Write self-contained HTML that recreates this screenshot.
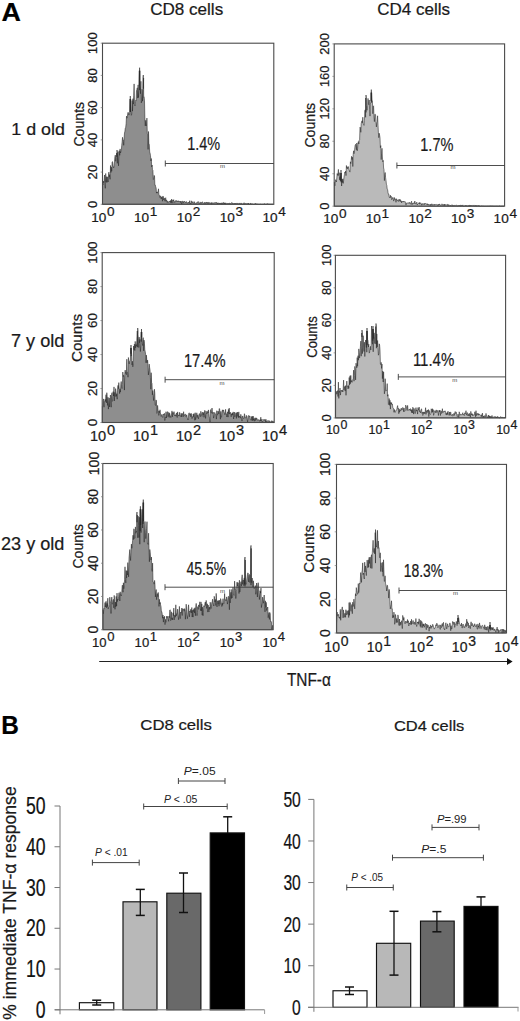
<!DOCTYPE html>
<html><head><meta charset="utf-8"><style>
html,body{margin:0;padding:0;background:#fff;width:520px;height:1021px;overflow:hidden}
svg text{font-family:"Liberation Sans", sans-serif;stroke:#1a1a1a;stroke-width:0.22px;paint-order:stroke}
</style></head><body>
<svg width="520" height="1021" viewBox="0 0 520 1021" style="display:block">
<rect width="520" height="1021" fill="#fff"/>
<text x="1.60" y="21.00" font-size="26.5" textLength="19.40" lengthAdjust="spacingAndGlyphs" font-weight="bold" fill="#000">A</text>
<text x="150.20" y="15.40" font-size="15.9" textLength="73.00" lengthAdjust="spacingAndGlyphs" fill="#1a1a1a">CD8 cells</text>
<text x="377.30" y="15.40" font-size="15.9" textLength="72.70" lengthAdjust="spacingAndGlyphs" fill="#1a1a1a">CD4 cells</text>
<text x="11.30" y="134.50" font-size="17.3" textLength="53.60" lengthAdjust="spacingAndGlyphs" fill="#1a1a1a">1 d old</text>
<text x="11.00" y="347.40" font-size="17.5" textLength="53.40" lengthAdjust="spacingAndGlyphs" fill="#1a1a1a">7 y old</text>
<text x="1.00" y="550.20" font-size="17.5" textLength="63.40" lengthAdjust="spacingAndGlyphs" fill="#1a1a1a">23 y old</text>
<polygon points="102.5,204.3 102.5,183.3 102.9,185.0 103.3,181.0 103.7,182.8 104.1,181.3 104.5,175.0 104.9,182.8 105.3,188.3 105.7,173.5 106.1,182.1 106.5,176.7 106.9,182.5 107.3,178.9 107.7,176.8 108.1,182.0 108.5,175.0 108.9,172.1 109.3,177.2 109.7,174.6 110.1,179.3 110.5,165.5 110.9,172.5 111.3,167.1 111.7,171.2 112.1,162.4 112.5,161.6 112.9,165.0 113.3,166.9 113.7,167.9 114.1,165.6 114.5,161.4 114.9,157.0 115.3,155.1 115.7,161.3 116.1,157.7 116.5,155.3 116.7,153.0 116.9,156.8 117.0,150.0 117.3,153.0 117.3,163.3 117.7,154.5 118.1,151.6 118.5,165.8 118.9,156.9 119.3,150.6 119.7,155.3 120.1,148.9 120.5,153.0 120.9,151.6 121.3,150.9 121.7,145.6 122.1,142.0 122.5,137.3 122.9,140.4 123.3,140.0 123.7,145.3 124.1,138.0 124.5,133.0 124.9,131.3 125.3,128.0 125.7,127.4 126.1,123.7 126.5,116.1 126.9,118.2 127.3,117.7 127.7,113.3 128.1,112.3 128.5,113.2 128.9,115.1 129.3,112.6 129.7,112.3 130.0,99.0 130.1,111.9 130.3,96.0 130.5,111.8 130.6,99.0 130.9,109.7 131.3,115.3 131.7,114.2 132.1,100.5 132.5,111.1 132.9,98.7 133.3,104.1 133.7,95.8 134.1,83.9 134.5,103.6 134.9,105.9 135.3,104.7 135.7,100.1 136.1,100.5 136.5,90.6 136.9,89.7 137.3,87.8 137.7,98.1 138.1,84.9 138.5,97.5 138.9,90.3 139.3,70.7 139.3,85.4 139.6,67.7 139.7,90.1 139.9,70.7 140.1,85.9 140.5,93.7 140.9,81.3 141.3,102.9 141.7,100.4 142.1,89.2 142.5,101.2 142.9,89.6 143.0,78.0 143.3,75.0 143.3,88.7 143.6,78.0 143.7,97.2 144.1,96.8 144.5,100.8 144.9,119.1 145.3,125.9 145.7,120.3 146.1,125.2 146.5,125.8 146.9,118.1 147.3,133.2 147.7,135.0 148.1,149.4 148.5,131.5 148.9,144.4 149.3,144.4 149.7,152.1 150.1,153.2 150.5,155.7 150.9,161.0 151.3,158.5 151.7,166.9 152.1,165.0 152.5,169.7 152.9,170.3 153.3,179.6 153.7,179.2 154.1,175.4 154.5,175.8 154.9,185.1 155.3,185.1 155.7,186.9 156.1,187.8 156.5,193.1 156.9,192.1 157.3,193.1 157.7,191.8 158.1,191.3 158.5,188.8 158.9,194.6 159.3,194.9 159.7,197.4 160.1,196.8 160.5,195.8 160.9,198.5 161.3,197.2 161.7,198.8 162.1,196.5 162.5,201.2 162.9,196.3 163.3,196.4 163.7,200.0 164.1,198.4 164.5,198.2 164.9,201.2 165.3,198.3 165.7,197.7 166.1,201.3 166.5,199.9 166.9,200.7 167.3,202.6 167.7,201.2 168.1,201.9 168.5,202.1 168.9,202.3 169.3,201.3 169.7,201.7 170.1,200.9 170.5,202.5 170.9,200.2 171.3,202.6 171.7,199.0 172.1,203.1 172.5,201.2 172.9,200.0 173.3,201.0 173.7,199.6 174.1,202.6 174.5,201.5 174.9,202.3 175.3,202.0 175.7,200.8 176.1,200.2 176.5,201.3 176.9,202.0 177.3,201.2 177.7,200.8 178.1,201.9 178.5,201.1 178.9,200.8 179.3,201.7 179.7,201.7 180.1,201.1 180.5,202.6 180.9,201.0 181.3,201.6 181.7,204.3 182.1,201.4 182.5,201.1 182.9,201.8 183.3,203.1 183.7,201.5 184.1,202.0 184.5,201.3 184.9,202.2 185.3,201.9 185.7,202.7 186.1,201.9 186.5,201.6 186.9,202.8 187.3,202.8 187.7,203.0 188.1,203.2 188.5,202.1 188.9,202.8 189.3,202.8 189.7,200.7 190.1,204.0 190.5,203.3 190.9,203.9 191.3,200.8 191.7,202.8 192.1,202.5 192.5,202.8 192.9,201.5 193.3,203.2 193.7,203.3 194.1,202.6 194.5,201.7 194.9,203.6 195.3,204.3 195.7,203.4 196.1,203.4 196.5,203.4 196.9,202.3 197.3,202.8 197.7,202.6 198.1,201.4 198.5,202.5 198.9,202.9 199.3,203.8 199.7,203.3 200.1,201.9 200.5,202.7 200.9,203.7 201.3,202.5 201.7,202.5 202.1,202.0 202.5,201.8 202.9,202.9 203.3,202.9 203.7,203.4 204.1,203.8 204.5,203.3 204.9,202.0 205.3,204.2 205.7,203.6 206.1,202.1 206.5,202.4 206.9,203.2 207.3,202.2 207.7,202.7 208.1,204.0 208.5,202.4 208.9,202.4 209.3,202.9 209.7,202.5 210.1,203.9 210.5,203.2 210.9,202.7 211.3,202.6 211.7,204.3 212.1,202.7 212.5,203.2 212.9,202.7 213.3,202.8 213.7,203.5 214.1,203.7 214.5,203.3 214.9,202.3 215.3,202.8 215.7,202.8 216.1,203.0 216.5,202.3 216.9,203.2 217.3,204.2 217.7,202.8 218.1,203.7 218.5,202.8 218.9,203.5 219.3,203.0 219.7,203.8 220.1,202.9 220.5,203.5 220.9,203.3 221.3,204.3 221.7,202.8 222.1,203.3 222.5,204.3 222.9,202.6 223.3,202.5 223.7,202.8 224.1,204.0 224.5,202.8 224.9,204.0 225.3,202.8 225.7,204.3 226.1,203.8 226.5,203.4 226.9,203.2 227.3,203.4 227.7,203.5 228.1,203.1 228.5,203.7 228.9,203.8 229.3,203.1 229.7,203.0 230.1,203.8 230.5,203.8 230.9,203.6 231.3,203.0 231.7,202.6 232.1,202.7 232.5,203.4 232.9,203.3 233.3,204.1 233.7,203.5 234.1,203.1 234.5,203.6 234.9,203.8 235.3,203.0 235.7,203.7 236.1,203.6 236.5,203.8 236.9,203.1 237.3,203.3 237.7,203.5 238.1,203.4 238.5,203.6 238.9,203.7 239.3,203.5 239.7,203.3 240.1,203.0 240.5,204.1 240.9,203.7 241.3,203.9 241.7,203.3 242.1,203.5 242.5,204.2 242.9,204.0 243.3,203.8 243.7,204.1 244.1,202.7 244.5,204.3 244.9,204.1 245.3,203.6 245.7,203.6 246.1,203.8 246.5,203.8 246.9,203.8 247.3,203.3 247.7,203.9 248.1,204.3 248.5,203.0 248.9,204.3 249.3,204.3 249.7,204.0 250.1,204.3 250.5,203.4 250.9,203.1 251.3,204.3 251.7,204.2 252.1,204.2 252.5,203.7 252.9,204.3 253.3,204.3 253.7,204.3 254.1,204.0 254.5,204.0 254.9,204.1 255.3,203.5 255.7,203.5 256.1,204.3 256.5,204.3 256.9,203.7 257.3,204.1 257.7,204.3 258.1,203.9 258.5,204.3 258.9,204.3 259.3,204.3 259.7,204.3 260.1,204.3 260.5,204.1 260.9,204.1 261.3,204.3 261.7,204.3 262.1,204.3 262.5,204.3 262.9,204.1 263.3,204.2 263.7,204.3 264.1,204.3 264.5,203.6 264.9,204.3 265.3,204.3 265.7,204.3 266.1,204.3 266.5,204.3 266.9,204.3 267.3,203.5 267.7,203.9 268.1,204.3 268.5,204.3 268.9,203.8 269.3,204.3 269.7,204.3 270.1,204.2 270.5,204.3 270.9,204.3 271.3,204.3 271.7,204.2 272.1,204.3 272.5,204.2 272.9,204.3 273.3,204.3 273.3,204.3" fill="#8e8e8e" stroke="#222" stroke-width="0.55" stroke-linejoin="miter"/>
<rect x="102.50" y="43.20" width="171.30" height="161.10" fill="none" stroke="#4a4a4a" stroke-width="1.1"/>
<line x1="100.70" y1="204.30" x2="102.50" y2="204.30" stroke="#777" stroke-width="0.7"/>
<text x="97.10" y="204.30" font-size="13.1" text-anchor="middle" transform="rotate(-90 97.10 204.30)" fill="#1a1a1a">0</text>
<line x1="100.70" y1="172.08" x2="102.50" y2="172.08" stroke="#777" stroke-width="0.7"/>
<text x="97.10" y="172.08" font-size="13.1" text-anchor="middle" transform="rotate(-90 97.10 172.08)" fill="#1a1a1a">20</text>
<line x1="100.70" y1="139.86" x2="102.50" y2="139.86" stroke="#777" stroke-width="0.7"/>
<text x="97.10" y="139.86" font-size="13.1" text-anchor="middle" transform="rotate(-90 97.10 139.86)" fill="#1a1a1a">40</text>
<line x1="100.70" y1="107.64" x2="102.50" y2="107.64" stroke="#777" stroke-width="0.7"/>
<text x="97.10" y="107.64" font-size="13.1" text-anchor="middle" transform="rotate(-90 97.10 107.64)" fill="#1a1a1a">60</text>
<line x1="100.70" y1="75.42" x2="102.50" y2="75.42" stroke="#777" stroke-width="0.7"/>
<text x="97.10" y="75.42" font-size="13.1" text-anchor="middle" transform="rotate(-90 97.10 75.42)" fill="#1a1a1a">80</text>
<line x1="100.70" y1="43.20" x2="102.50" y2="43.20" stroke="#777" stroke-width="0.7"/>
<text x="97.10" y="43.20" font-size="13.1" text-anchor="middle" transform="rotate(-90 97.10 43.20)" fill="#1a1a1a">100</text>
<text x="91.18" y="221.86" font-size="13.6" fill="#1a1a1a">10<tspan dx="0.68" dy="-5.85">0</tspan></text>
<text x="134.01" y="221.86" font-size="13.6" fill="#1a1a1a">10<tspan dx="0.68" dy="-5.85">1</tspan></text>
<text x="176.83" y="221.86" font-size="13.6" fill="#1a1a1a">10<tspan dx="0.68" dy="-5.85">2</tspan></text>
<text x="219.66" y="221.86" font-size="13.6" fill="#1a1a1a">10<tspan dx="0.68" dy="-5.85">3</tspan></text>
<text x="262.48" y="221.86" font-size="13.6" fill="#1a1a1a">10<tspan dx="0.68" dy="-5.85">4</tspan></text>
<text x="83.80" y="124.20" font-size="14.6" textLength="44.70" lengthAdjust="spacingAndGlyphs" text-anchor="middle" transform="rotate(-90 83.80 124.20)" fill="#1a1a1a">Counts</text>
<text x="187.20" y="149.70" font-size="18.5" textLength="33.00" lengthAdjust="spacingAndGlyphs" fill="#1a1a1a">1.4%</text>
<line x1="165.30" y1="163.50" x2="273.80" y2="163.50" stroke="#3a3a3a" stroke-width="0.9"/>
<line x1="165.30" y1="160.50" x2="165.30" y2="166.50" stroke="#3a3a3a" stroke-width="0.9"/>
<text x="220.00" y="168.00" font-size="6" fill="#444" style="stroke:none">m</text>
<polygon points="334.4,206.2 334.4,182.2 334.8,185.9 335.2,183.7 335.6,179.7 336.0,180.7 336.4,182.0 336.8,177.9 337.2,173.5 337.6,175.4 338.0,173.3 338.4,169.4 338.8,175.6 339.2,172.7 339.6,179.8 340.0,176.5 340.4,181.2 340.7,173.0 340.8,180.2 341.0,170.0 341.2,182.3 341.3,173.0 341.6,186.0 342.0,179.2 342.4,182.5 342.8,178.8 343.2,183.4 343.6,180.5 344.0,177.2 344.4,174.7 344.8,172.2 345.2,173.0 345.6,171.1 346.0,175.6 346.4,165.5 346.8,168.3 347.2,167.2 347.6,168.8 348.0,166.4 348.4,166.8 348.8,169.3 349.2,170.0 349.6,171.6 350.0,172.1 350.4,161.8 350.8,163.6 351.2,160.3 351.6,156.3 352.0,159.5 352.4,157.2 352.8,166.5 353.2,154.4 353.6,150.8 354.0,153.7 354.4,152.7 354.8,147.6 355.2,145.1 355.6,144.3 356.0,146.8 356.4,149.8 356.8,143.0 357.2,150.8 357.6,148.6 358.0,142.8 358.4,141.5 358.8,144.0 359.2,140.3 359.6,139.9 360.0,127.1 360.4,127.8 360.8,132.3 361.2,123.6 361.6,121.8 362.0,120.8 362.4,122.8 362.8,117.2 363.2,124.1 363.6,124.5 364.0,125.4 364.4,120.7 364.8,111.0 365.2,109.8 365.6,117.3 365.7,98.0 366.0,112.4 366.0,95.0 366.3,98.0 366.4,105.5 366.8,110.1 367.2,110.2 367.6,105.9 368.0,98.4 368.4,103.7 368.8,104.7 369.2,100.0 369.6,109.3 370.0,116.1 370.4,104.1 370.8,101.8 371.0,92.6 371.2,101.2 371.3,89.6 371.6,102.6 371.6,92.6 372.0,100.6 372.4,100.8 372.8,113.7 373.2,106.4 373.6,105.8 374.0,117.1 374.4,121.6 374.8,114.4 375.2,114.2 375.6,114.9 376.0,121.8 376.4,126.9 376.8,122.7 377.2,121.6 377.6,115.8 378.0,125.1 378.4,132.8 378.8,137.7 379.2,133.2 379.6,135.2 380.0,137.7 380.4,147.7 380.8,145.6 381.2,159.6 381.6,153.2 382.0,148.3 382.4,157.0 382.8,161.8 383.2,160.4 383.6,168.0 384.0,169.6 384.4,180.6 384.8,174.3 385.2,172.5 385.6,177.7 386.0,180.4 386.4,184.3 386.8,185.4 387.2,189.2 387.6,189.5 388.0,192.6 388.4,194.2 388.8,194.1 389.2,196.9 389.6,197.9 390.0,197.2 390.4,195.2 390.8,197.6 391.2,196.3 391.6,199.6 392.0,198.6 392.4,198.9 392.8,197.3 393.2,198.0 393.6,201.1 394.0,200.2 394.4,197.5 394.8,199.5 395.2,198.8 395.6,200.1 396.0,202.3 396.4,198.7 396.8,200.2 397.2,200.4 397.6,200.8 398.0,199.7 398.4,201.5 398.8,200.6 399.2,199.1 399.6,201.1 400.0,201.0 400.4,199.6 400.8,201.8 401.2,200.8 401.6,202.9 402.0,201.4 402.4,202.0 402.8,201.4 403.2,202.1 403.6,201.2 404.0,202.0 404.4,202.0 404.8,201.4 405.2,201.8 405.6,203.0 406.0,205.2 406.4,203.0 406.8,202.9 407.2,202.8 407.6,203.1 408.0,203.0 408.4,203.2 408.8,202.6 409.2,203.5 409.6,202.5 410.0,202.5 410.4,204.2 410.8,204.0 411.2,202.3 411.6,201.2 412.0,204.8 412.4,203.1 412.8,203.5 413.2,203.5 413.6,203.9 414.0,202.6 414.4,203.5 414.8,201.0 415.2,203.0 415.6,204.0 416.0,204.0 416.4,203.2 416.8,202.1 417.2,205.0 417.6,204.1 418.0,204.0 418.4,203.5 418.8,203.9 419.2,202.5 419.6,204.2 420.0,202.5 420.4,203.5 420.8,203.7 421.2,203.4 421.6,205.2 422.0,203.7 422.4,203.6 422.8,204.6 423.2,204.0 423.6,203.6 424.0,204.8 424.4,204.6 424.8,203.1 425.2,204.1 425.6,203.7 426.0,203.6 426.4,204.2 426.8,203.8 427.2,204.8 427.6,203.7 428.0,205.1 428.4,204.3 428.8,204.9 429.2,205.3 429.6,204.8 430.0,204.2 430.4,205.7 430.8,204.2 431.2,204.6 431.6,203.8 432.0,205.7 432.4,205.0 432.8,204.2 433.2,204.3 433.6,205.1 434.0,205.5 434.4,204.1 434.8,204.8 435.2,204.6 435.6,204.8 436.0,204.3 436.4,204.8 436.8,204.5 437.2,204.8 437.6,204.6 438.0,205.8 438.4,204.7 438.8,204.0 439.2,205.1 439.6,204.1 440.0,204.3 440.4,204.9 440.8,205.6 441.2,204.9 441.6,204.7 442.0,203.8 442.4,204.3 442.8,205.5 443.2,204.6 443.6,204.7 444.0,205.7 444.4,204.0 444.8,205.7 445.2,204.8 445.6,204.5 446.0,205.2 446.4,204.8 446.8,204.8 447.2,204.6 447.6,204.3 448.0,206.1 448.4,204.6 448.8,205.2 449.2,204.9 449.6,205.3 450.0,205.1 450.4,205.7 450.8,205.1 451.2,205.5 451.6,204.9 452.0,204.8 452.4,204.9 452.8,206.1 453.2,205.5 453.6,205.7 454.0,206.0 454.4,205.3 454.8,205.6 455.2,205.4 455.6,205.6 456.0,205.6 456.4,205.3 456.8,205.3 457.2,205.5 457.6,206.2 458.0,205.6 458.4,206.0 458.8,205.4 459.2,206.0 459.6,205.4 460.0,206.0 460.4,206.2 460.8,204.9 461.2,205.5 461.6,205.5 462.0,206.1 462.4,205.5 462.8,204.9 463.2,206.2 463.6,206.2 464.0,206.1 464.4,206.1 464.8,205.6 465.2,205.8 465.6,205.5 466.0,205.3 466.4,206.2 466.8,205.4 467.2,205.8 467.6,206.2 468.0,205.5 468.4,205.8 468.8,205.6 469.2,205.3 469.6,206.2 470.0,205.1 470.4,205.9 470.8,205.6 471.2,206.0 471.6,205.5 472.0,205.4 472.4,206.0 472.8,205.5 473.2,205.7 473.6,205.3 474.0,205.9 474.4,206.1 474.8,205.4 475.2,205.6 475.6,206.2 476.0,205.2 476.4,206.2 476.8,206.2 477.2,205.6 477.6,206.0 478.0,206.2 478.4,205.5 478.8,206.2 479.2,205.5 479.6,206.2 480.0,205.9 480.4,206.2 480.8,206.0 481.2,205.8 481.6,206.0 482.0,206.2 482.4,206.2 482.8,205.8 483.2,205.9 483.6,206.1 484.0,206.0 484.4,206.2 484.8,206.2 485.2,206.2 485.6,206.2 486.0,206.2 486.4,206.2 486.8,206.2 487.2,206.1 487.6,206.2 488.0,206.2 488.4,206.2 488.8,206.1 489.2,206.2 489.6,206.0 490.0,206.0 490.4,205.9 490.8,206.1 491.2,206.2 491.6,206.2 492.0,205.7 492.4,206.2 492.8,206.2 493.2,206.1 493.6,206.2 494.0,206.0 494.4,206.2 494.8,206.2 495.2,206.2 495.6,206.2 496.0,206.2 496.4,206.2 496.8,206.0 497.2,206.1 497.6,206.2 498.0,206.2 498.4,206.2 498.8,206.2 499.2,205.8 499.6,206.2 500.0,205.8 500.4,206.2 500.8,206.2 501.2,206.2 501.6,206.2 502.0,206.2 502.4,206.2 502.8,206.1 503.2,206.2 503.6,206.2 504.0,206.2 504.0,206.2" fill="#bababa" stroke="#222" stroke-width="0.55" stroke-linejoin="miter"/>
<rect x="334.20" y="43.90" width="170.40" height="162.30" fill="none" stroke="#4a4a4a" stroke-width="1.1"/>
<line x1="332.40" y1="206.20" x2="334.20" y2="206.20" stroke="#777" stroke-width="0.7"/>
<text x="329.40" y="206.20" font-size="12.9" text-anchor="middle" transform="rotate(-90 329.40 206.20)" fill="#1a1a1a">0</text>
<line x1="332.40" y1="173.74" x2="334.20" y2="173.74" stroke="#777" stroke-width="0.7"/>
<text x="329.40" y="173.74" font-size="12.9" text-anchor="middle" transform="rotate(-90 329.40 173.74)" fill="#1a1a1a">40</text>
<line x1="332.40" y1="141.28" x2="334.20" y2="141.28" stroke="#777" stroke-width="0.7"/>
<text x="329.40" y="141.28" font-size="12.9" text-anchor="middle" transform="rotate(-90 329.40 141.28)" fill="#1a1a1a">80</text>
<line x1="332.40" y1="108.82" x2="334.20" y2="108.82" stroke="#777" stroke-width="0.7"/>
<text x="329.40" y="108.82" font-size="12.9" text-anchor="middle" transform="rotate(-90 329.40 108.82)" fill="#1a1a1a">120</text>
<line x1="332.40" y1="76.36" x2="334.20" y2="76.36" stroke="#777" stroke-width="0.7"/>
<text x="329.40" y="76.36" font-size="12.9" text-anchor="middle" transform="rotate(-90 329.40 76.36)" fill="#1a1a1a">160</text>
<line x1="332.40" y1="43.90" x2="334.20" y2="43.90" stroke="#777" stroke-width="0.7"/>
<text x="329.40" y="43.90" font-size="12.9" text-anchor="middle" transform="rotate(-90 329.40 43.90)" fill="#1a1a1a">200</text>
<text x="323.18" y="223.36" font-size="13.6" fill="#1a1a1a">10<tspan dx="0.68" dy="-5.85">0</tspan></text>
<text x="365.78" y="223.36" font-size="13.6" fill="#1a1a1a">10<tspan dx="0.68" dy="-5.85">1</tspan></text>
<text x="408.38" y="223.36" font-size="13.6" fill="#1a1a1a">10<tspan dx="0.68" dy="-5.85">2</tspan></text>
<text x="450.98" y="223.36" font-size="13.6" fill="#1a1a1a">10<tspan dx="0.68" dy="-5.85">3</tspan></text>
<text x="493.58" y="223.36" font-size="13.6" fill="#1a1a1a">10<tspan dx="0.68" dy="-5.85">4</tspan></text>
<text x="314.80" y="125.20" font-size="14.6" textLength="44.70" lengthAdjust="spacingAndGlyphs" text-anchor="middle" transform="rotate(-90 314.80 125.20)" fill="#1a1a1a">Counts</text>
<text x="420.30" y="150.80" font-size="18.5" textLength="33.10" lengthAdjust="spacingAndGlyphs" fill="#1a1a1a">1.7%</text>
<line x1="396.90" y1="165.50" x2="504.60" y2="165.50" stroke="#3a3a3a" stroke-width="0.9"/>
<line x1="396.90" y1="162.50" x2="396.90" y2="168.50" stroke="#3a3a3a" stroke-width="0.9"/>
<text x="450.60" y="169.30" font-size="6" fill="#444" style="stroke:none">m</text>
<polygon points="102.4,422.5 102.4,406.5 102.8,405.8 103.2,400.3 103.6,398.9 104.0,407.2 104.4,401.6 104.8,400.9 105.2,399.3 105.6,401.6 106.0,394.7 106.4,402.9 106.8,392.7 107.2,397.1 107.6,405.4 108.0,397.2 108.4,409.1 108.8,402.2 109.2,398.0 109.6,407.0 110.0,399.8 110.4,395.0 110.8,397.6 111.2,407.2 111.6,395.3 112.0,392.7 112.4,401.4 112.8,400.9 113.2,391.6 113.6,396.0 114.0,386.9 114.4,400.9 114.8,392.4 115.2,396.5 115.6,388.6 116.0,391.1 116.4,396.3 116.8,393.7 117.2,399.2 117.6,389.0 118.0,385.4 118.4,388.7 118.8,382.6 119.2,388.1 119.6,393.6 120.0,388.8 120.4,392.1 120.8,385.0 121.2,381.5 121.6,387.2 122.0,388.5 122.4,384.6 122.8,372.0 123.2,376.6 123.6,375.2 124.0,375.5 124.4,390.1 124.8,372.8 125.2,370.1 125.6,373.3 126.0,372.4 126.4,374.7 126.8,359.2 127.2,372.6 127.6,372.4 128.0,377.2 128.4,357.5 128.8,360.5 129.2,363.9 129.6,361.4 130.0,360.7 130.4,360.1 130.7,348.0 130.8,353.7 131.0,345.0 131.2,356.1 131.3,348.0 131.6,354.5 132.0,364.9 132.4,361.2 132.8,366.8 133.2,362.8 133.6,346.0 134.0,349.8 134.4,344.1 134.8,350.6 135.2,341.4 135.6,347.9 136.0,344.5 136.4,346.3 136.8,340.5 137.2,331.3 137.4,331.0 137.6,347.2 137.7,328.0 138.0,331.0 138.0,334.8 138.4,340.0 138.8,347.5 139.2,337.1 139.6,342.8 140.0,339.4 140.4,351.5 140.8,345.1 141.2,332.0 141.2,341.6 141.5,329.0 141.6,337.1 141.8,332.0 142.0,337.9 142.4,343.8 142.8,345.6 143.2,337.6 143.6,350.8 144.0,340.1 144.4,343.2 144.8,349.7 145.2,351.4 145.6,354.3 146.0,362.8 146.4,355.1 146.8,360.1 147.2,362.8 147.6,360.1 148.0,364.9 148.4,374.9 148.8,370.4 149.2,364.1 149.6,367.5 150.0,369.8 150.4,377.5 150.8,389.2 151.2,372.7 151.6,382.9 152.0,383.5 152.4,394.8 152.8,390.5 153.2,395.0 153.6,400.5 154.0,393.6 154.4,389.2 154.8,393.1 155.2,404.7 155.6,405.5 156.0,399.9 156.4,400.8 156.8,413.4 157.2,412.4 157.6,405.4 158.0,410.2 158.4,410.8 158.8,415.4 159.2,411.0 159.6,412.7 160.0,409.8 160.4,412.7 160.8,415.8 161.2,416.5 161.6,415.1 162.0,414.3 162.4,416.6 162.8,417.5 163.2,415.1 163.6,414.1 164.0,414.8 164.4,413.3 164.8,420.5 165.2,417.3 165.6,417.8 166.0,411.7 166.4,418.0 166.8,414.9 167.2,412.1 167.6,411.6 168.0,416.7 168.4,416.2 168.8,412.3 169.2,417.4 169.6,413.1 170.0,415.2 170.4,416.0 170.8,417.6 171.2,415.0 171.6,413.7 172.0,410.9 172.4,416.9 172.8,412.3 173.2,414.1 173.6,414.3 174.0,411.6 174.4,414.5 174.8,416.0 175.2,415.0 175.6,414.7 176.0,416.2 176.4,413.0 176.8,413.0 177.2,417.5 177.6,411.9 178.0,414.6 178.4,415.6 178.8,415.1 179.2,416.1 179.6,412.3 180.0,414.9 180.4,415.8 180.8,416.6 181.2,413.2 181.6,416.9 182.0,414.0 182.4,413.4 182.8,415.4 183.2,416.8 183.6,411.7 184.0,416.1 184.4,415.7 184.8,414.3 185.2,414.2 185.6,414.3 186.0,416.6 186.4,415.8 186.8,414.8 187.2,417.5 187.6,418.5 188.0,420.0 188.4,417.0 188.8,413.3 189.2,412.8 189.6,414.8 190.0,415.3 190.4,413.7 190.8,416.9 191.2,413.3 191.6,416.1 192.0,418.6 192.4,416.6 192.8,417.4 193.2,414.0 193.6,416.7 194.0,413.5 194.4,416.2 194.8,420.3 195.2,412.7 195.6,419.6 196.0,417.6 196.4,416.9 196.8,412.8 197.2,417.5 197.6,414.8 198.0,415.3 198.4,418.9 198.8,416.3 199.2,413.6 199.6,413.8 200.0,415.3 200.4,416.7 200.8,411.3 201.2,412.8 201.6,415.7 202.0,416.4 202.4,412.6 202.8,412.1 203.2,415.1 203.6,412.5 204.0,417.3 204.4,413.5 204.8,410.3 205.2,413.8 205.6,418.4 206.0,411.1 206.4,412.4 206.8,414.0 207.2,413.1 207.6,411.4 208.0,413.0 208.4,409.9 208.8,413.5 209.2,416.5 209.6,418.7 210.0,422.5 210.4,410.6 210.8,409.5 211.2,413.0 211.6,413.1 212.0,408.0 212.4,412.2 212.8,413.6 213.2,412.1 213.6,418.1 214.0,416.0 214.4,412.8 214.8,412.4 215.2,413.7 215.6,414.0 216.0,414.9 216.4,419.1 216.8,410.7 217.2,414.2 217.6,415.2 218.0,411.0 218.4,411.9 218.8,414.0 219.2,408.5 219.6,408.8 220.0,412.7 220.4,419.2 220.8,411.4 221.2,417.0 221.6,417.3 222.0,411.6 222.4,409.8 222.8,411.4 223.2,411.0 223.6,409.9 224.0,412.6 224.4,412.7 224.8,414.8 225.2,413.6 225.6,409.3 226.0,414.1 226.4,413.9 226.8,417.0 227.2,413.4 227.6,411.8 228.0,417.1 228.4,409.4 228.8,413.6 229.2,408.1 229.6,414.1 230.0,412.6 230.4,412.6 230.8,412.6 231.2,416.8 231.6,413.8 232.0,415.1 232.4,412.9 232.8,415.2 233.2,411.9 233.6,419.0 234.0,415.0 234.4,412.1 234.8,416.8 235.2,415.7 235.6,414.8 236.0,412.6 236.4,418.4 236.8,412.7 237.2,416.4 237.6,412.1 238.0,413.5 238.4,417.6 238.8,411.9 239.2,417.3 239.6,416.1 240.0,416.5 240.4,418.2 240.8,414.3 241.2,416.2 241.6,419.0 242.0,421.1 242.4,416.1 242.8,416.1 243.2,417.9 243.6,418.6 244.0,417.6 244.4,413.7 244.8,415.1 245.2,418.2 245.6,417.7 246.0,417.9 246.4,415.4 246.8,415.9 247.2,419.3 247.6,421.9 248.0,417.9 248.4,415.5 248.8,415.9 249.2,415.7 249.6,416.7 250.0,416.1 250.4,419.9 250.8,419.8 251.2,420.2 251.6,416.5 252.0,420.3 252.4,416.3 252.8,420.8 253.2,416.1 253.6,420.1 254.0,418.8 254.4,421.2 254.8,417.9 255.2,418.0 255.6,420.6 256.0,417.7 256.4,419.4 256.8,418.3 257.2,419.1 257.6,420.4 258.0,419.9 258.4,419.6 258.8,420.0 259.2,421.0 259.6,421.3 260.0,419.6 260.4,421.0 260.8,417.2 261.2,421.3 261.6,420.3 262.0,419.1 262.4,422.2 262.8,421.3 263.2,421.2 263.6,420.5 264.0,419.1 264.4,420.3 264.8,419.9 265.2,419.6 265.6,421.9 266.0,419.3 266.4,422.5 266.8,421.2 267.2,420.8 267.6,420.9 268.0,420.9 268.4,420.5 268.8,421.8 269.2,422.3 269.6,420.7 270.0,421.1 270.4,422.2 270.8,422.5 271.2,422.5 271.6,420.9 272.0,420.6 272.4,422.5 272.8,421.2 273.2,421.1 273.6,422.5 273.6,422.5" fill="#8e8e8e" stroke="#222" stroke-width="0.55" stroke-linejoin="miter"/>
<rect x="102.20" y="252.60" width="172.00" height="169.90" fill="none" stroke="#4a4a4a" stroke-width="1.1"/>
<line x1="100.40" y1="422.50" x2="102.20" y2="422.50" stroke="#777" stroke-width="0.7"/>
<text x="97.30" y="422.50" font-size="13.4" text-anchor="middle" transform="rotate(-90 97.30 422.50)" fill="#1a1a1a">0</text>
<line x1="100.40" y1="388.52" x2="102.20" y2="388.52" stroke="#777" stroke-width="0.7"/>
<text x="97.30" y="388.52" font-size="13.4" text-anchor="middle" transform="rotate(-90 97.30 388.52)" fill="#1a1a1a">20</text>
<line x1="100.40" y1="354.54" x2="102.20" y2="354.54" stroke="#777" stroke-width="0.7"/>
<text x="97.30" y="354.54" font-size="13.4" text-anchor="middle" transform="rotate(-90 97.30 354.54)" fill="#1a1a1a">40</text>
<line x1="100.40" y1="320.56" x2="102.20" y2="320.56" stroke="#777" stroke-width="0.7"/>
<text x="97.30" y="320.56" font-size="13.4" text-anchor="middle" transform="rotate(-90 97.30 320.56)" fill="#1a1a1a">60</text>
<line x1="100.40" y1="286.58" x2="102.20" y2="286.58" stroke="#777" stroke-width="0.7"/>
<text x="97.30" y="286.58" font-size="13.4" text-anchor="middle" transform="rotate(-90 97.30 286.58)" fill="#1a1a1a">80</text>
<line x1="100.40" y1="252.60" x2="102.20" y2="252.60" stroke="#777" stroke-width="0.7"/>
<text x="97.30" y="252.60" font-size="13.4" text-anchor="middle" transform="rotate(-90 97.30 252.60)" fill="#1a1a1a">100</text>
<text x="89.92" y="441.15" font-size="14.6" fill="#1a1a1a">10<tspan dx="0.73" dy="-6.28">0</tspan></text>
<text x="132.92" y="441.15" font-size="14.6" fill="#1a1a1a">10<tspan dx="0.73" dy="-6.28">1</tspan></text>
<text x="175.92" y="441.15" font-size="14.6" fill="#1a1a1a">10<tspan dx="0.73" dy="-6.28">2</tspan></text>
<text x="218.92" y="441.15" font-size="14.6" fill="#1a1a1a">10<tspan dx="0.73" dy="-6.28">3</tspan></text>
<text x="261.92" y="441.15" font-size="14.6" fill="#1a1a1a">10<tspan dx="0.73" dy="-6.28">4</tspan></text>
<text x="81.90" y="338.00" font-size="15.3" textLength="48.10" lengthAdjust="spacingAndGlyphs" text-anchor="middle" transform="rotate(-90 81.90 338.00)" fill="#1a1a1a">Counts</text>
<text x="183.90" y="366.50" font-size="18.0" textLength="41.70" lengthAdjust="spacingAndGlyphs" fill="#1a1a1a">17.4%</text>
<line x1="165.10" y1="379.70" x2="274.20" y2="379.70" stroke="#3a3a3a" stroke-width="0.9"/>
<line x1="165.10" y1="376.70" x2="165.10" y2="382.70" stroke="#3a3a3a" stroke-width="0.9"/>
<text x="219.50" y="384.70" font-size="6" fill="#444" style="stroke:none">m</text>
<polygon points="335.6,417.9 335.6,395.6 336.0,391.7 336.4,391.3 336.8,394.2 337.2,392.1 337.6,390.6 338.0,396.5 338.4,382.1 338.8,398.4 339.2,391.2 339.6,392.4 340.0,388.0 340.4,395.1 340.8,391.5 341.2,390.0 341.6,391.3 342.0,391.6 342.4,390.2 342.8,392.0 343.2,388.4 343.6,380.1 344.0,389.8 344.4,388.4 344.8,386.4 345.2,391.1 345.6,385.6 346.0,395.3 346.4,388.2 346.8,381.1 347.2,386.4 347.6,385.9 348.0,388.9 348.4,385.6 348.8,388.4 349.2,377.5 349.6,384.8 350.0,375.8 350.4,383.7 350.8,375.4 351.2,381.8 351.6,380.6 352.0,382.4 352.4,380.2 352.8,379.5 353.2,378.4 353.6,370.1 354.0,381.2 354.4,375.6 354.8,366.4 355.2,369.0 355.6,379.9 356.0,363.2 356.4,366.1 356.8,367.8 357.2,357.6 357.6,366.3 358.0,355.7 358.4,360.2 358.8,348.9 359.2,352.2 359.6,358.1 360.0,352.7 360.4,346.5 360.8,341.1 361.2,356.2 361.6,348.1 361.7,333.0 362.0,337.0 362.0,330.0 362.3,333.0 362.4,353.6 362.8,347.8 363.2,335.7 363.6,347.2 364.0,351.5 364.4,342.2 364.8,356.5 365.2,345.4 365.6,340.0 366.0,344.2 366.4,347.5 366.7,331.0 366.8,352.2 367.0,328.0 367.2,345.2 367.3,331.0 367.6,339.9 368.0,340.6 368.4,347.0 368.8,344.2 369.2,353.1 369.6,352.3 370.0,348.1 370.4,346.3 370.8,350.0 371.2,343.6 371.6,326.0 372.0,339.5 372.4,344.2 372.7,329.0 372.8,340.7 373.0,326.0 373.2,351.8 373.3,329.0 373.6,338.6 374.0,332.9 374.4,336.7 374.8,343.6 375.2,332.7 375.6,332.4 375.7,326.5 376.0,344.1 376.0,323.5 376.3,326.5 376.4,348.2 376.8,333.9 377.2,346.9 377.6,340.5 378.0,347.4 378.4,355.2 378.8,353.9 379.2,343.8 379.6,345.0 380.0,349.9 380.4,363.9 380.8,364.7 381.2,362.4 381.6,368.4 382.0,364.1 382.4,378.6 382.8,371.0 383.2,382.0 383.6,372.0 384.0,382.8 384.4,393.8 384.8,390.3 385.2,378.7 385.6,390.9 386.0,390.7 386.4,390.5 386.8,390.7 387.2,383.6 387.6,396.2 388.0,394.6 388.4,404.6 388.8,404.0 389.2,398.5 389.6,405.3 390.0,400.3 390.4,409.1 390.8,402.3 391.2,404.0 391.6,402.7 392.0,405.0 392.4,404.3 392.8,407.5 393.2,408.3 393.6,408.4 394.0,412.3 394.4,409.5 394.8,412.0 395.2,412.4 395.6,411.4 396.0,410.3 396.4,409.9 396.8,409.9 397.2,407.2 397.6,405.6 398.0,408.9 398.4,408.3 398.8,413.7 399.2,408.9 399.6,412.2 400.0,410.2 400.4,409.7 400.8,410.8 401.2,408.1 401.6,409.1 402.0,410.0 402.4,408.6 402.8,407.4 403.2,408.3 403.6,411.7 404.0,408.0 404.4,411.4 404.8,411.4 405.2,411.0 405.6,405.1 406.0,405.6 406.4,406.4 406.8,409.9 407.2,410.6 407.6,405.4 408.0,409.7 408.4,409.9 408.8,410.4 409.2,409.1 409.6,409.8 410.0,409.6 410.4,408.6 410.8,411.0 411.2,409.7 411.6,412.6 412.0,409.5 412.4,413.0 412.8,407.2 413.2,408.3 413.6,414.1 414.0,408.4 414.4,409.6 414.8,411.3 415.2,413.6 415.6,409.4 416.0,407.6 416.4,411.2 416.8,409.8 417.2,410.1 417.6,414.1 418.0,407.6 418.4,410.2 418.8,409.1 419.2,407.1 419.6,411.7 420.0,410.6 420.4,412.9 420.8,411.4 421.2,409.2 421.6,408.8 422.0,413.4 422.4,412.1 422.8,415.5 423.2,414.5 423.6,411.9 424.0,413.9 424.4,412.2 424.8,413.5 425.2,411.4 425.6,407.7 426.0,414.4 426.4,410.6 426.8,411.0 427.2,412.6 427.6,410.1 428.0,411.3 428.4,409.5 428.8,416.6 429.2,410.5 429.6,413.6 430.0,413.8 430.4,414.5 430.8,413.3 431.2,408.8 431.6,410.0 432.0,412.6 432.4,408.7 432.8,412.0 433.2,409.6 433.6,415.3 434.0,413.8 434.4,412.3 434.8,410.7 435.2,411.1 435.6,412.7 436.0,409.9 436.4,410.1 436.8,412.6 437.2,411.8 437.6,410.4 438.0,410.9 438.4,415.5 438.8,412.3 439.2,410.1 439.6,412.0 440.0,410.2 440.4,415.5 440.8,412.1 441.2,410.9 441.6,413.5 442.0,412.5 442.4,408.7 442.8,412.5 443.2,412.6 443.6,411.5 444.0,411.6 444.4,412.0 444.8,410.9 445.2,410.9 445.6,412.8 446.0,414.6 446.4,413.3 446.8,415.1 447.2,412.3 447.6,414.4 448.0,411.2 448.4,414.4 448.8,414.9 449.2,415.5 449.6,412.0 450.0,415.0 450.4,411.9 450.8,412.4 451.2,415.7 451.6,415.1 452.0,414.7 452.4,414.2 452.8,416.2 453.2,415.8 453.6,414.2 454.0,413.3 454.4,415.4 454.8,412.9 455.2,411.5 455.6,413.5 456.0,412.5 456.4,412.3 456.8,415.5 457.2,416.7 457.6,416.5 458.0,414.1 458.4,415.5 458.8,417.7 459.2,411.8 459.6,413.3 460.0,415.3 460.4,414.4 460.8,414.2 461.2,414.7 461.6,414.8 462.0,415.0 462.4,413.7 462.8,412.7 463.2,415.1 463.6,414.4 464.0,415.4 464.4,415.5 464.8,412.8 465.2,413.9 465.6,412.7 466.0,410.7 466.4,415.2 466.8,413.9 467.2,412.5 467.6,414.2 468.0,416.0 468.4,414.1 468.8,413.7 469.2,416.1 469.6,413.4 470.0,414.2 470.4,417.3 470.8,411.4 471.2,413.6 471.6,415.0 472.0,413.5 472.4,415.7 472.8,414.2 473.2,414.7 473.6,415.5 474.0,415.1 474.4,414.9 474.8,411.8 475.2,413.0 475.6,416.8 476.0,410.7 476.4,415.6 476.8,414.2 477.2,413.2 477.6,413.9 478.0,415.1 478.4,413.5 478.8,415.2 479.2,414.2 479.6,414.2 480.0,414.7 480.4,415.2 480.8,415.8 481.2,416.6 481.6,414.7 482.0,416.6 482.4,413.1 482.8,416.0 483.2,417.7 483.6,416.1 484.0,417.5 484.4,416.2 484.8,415.5 485.2,417.2 485.6,416.9 486.0,413.4 486.4,416.1 486.8,415.9 487.2,416.9 487.6,417.9 488.0,416.4 488.4,415.0 488.8,417.7 489.2,415.7 489.6,417.7 490.0,416.0 490.4,417.9 490.8,416.5 491.2,416.6 491.6,417.8 492.0,415.4 492.4,417.5 492.8,417.5 493.2,417.3 493.6,417.0 494.0,417.2 494.4,417.0 494.8,416.5 495.2,417.7 495.6,416.7 496.0,417.0 496.4,417.9 496.8,416.8 497.2,417.9 497.6,416.5 498.0,416.6 498.4,417.6 498.8,417.6 499.2,417.9 499.6,417.8 500.0,417.8 500.4,416.7 500.8,416.8 501.2,417.3 501.6,417.0 502.0,417.9 502.4,417.5 502.8,417.1 503.2,417.4 503.6,417.8 504.0,417.4 504.4,417.4 504.8,417.9 505.2,417.9 505.2,417.9" fill="#bababa" stroke="#222" stroke-width="0.55" stroke-linejoin="miter"/>
<rect x="335.40" y="255.30" width="170.20" height="162.60" fill="none" stroke="#4a4a4a" stroke-width="1.1"/>
<line x1="333.60" y1="417.90" x2="335.40" y2="417.90" stroke="#777" stroke-width="0.7"/>
<text x="331.20" y="417.90" font-size="12.9" text-anchor="middle" transform="rotate(-90 331.20 417.90)" fill="#1a1a1a">0</text>
<line x1="333.60" y1="385.38" x2="335.40" y2="385.38" stroke="#777" stroke-width="0.7"/>
<text x="331.20" y="385.38" font-size="12.9" text-anchor="middle" transform="rotate(-90 331.20 385.38)" fill="#1a1a1a">20</text>
<line x1="333.60" y1="352.86" x2="335.40" y2="352.86" stroke="#777" stroke-width="0.7"/>
<text x="331.20" y="352.86" font-size="12.9" text-anchor="middle" transform="rotate(-90 331.20 352.86)" fill="#1a1a1a">40</text>
<line x1="333.60" y1="320.34" x2="335.40" y2="320.34" stroke="#777" stroke-width="0.7"/>
<text x="331.20" y="320.34" font-size="12.9" text-anchor="middle" transform="rotate(-90 331.20 320.34)" fill="#1a1a1a">60</text>
<line x1="333.60" y1="287.82" x2="335.40" y2="287.82" stroke="#777" stroke-width="0.7"/>
<text x="331.20" y="287.82" font-size="12.9" text-anchor="middle" transform="rotate(-90 331.20 287.82)" fill="#1a1a1a">80</text>
<line x1="333.60" y1="255.30" x2="335.40" y2="255.30" stroke="#777" stroke-width="0.7"/>
<text x="331.20" y="255.30" font-size="12.9" text-anchor="middle" transform="rotate(-90 331.20 255.30)" fill="#1a1a1a">100</text>
<text x="325.96" y="433.88" font-size="12.4" fill="#1a1a1a">10<tspan dx="0.62" dy="-5.33">0</tspan></text>
<text x="368.51" y="433.88" font-size="12.4" fill="#1a1a1a">10<tspan dx="0.62" dy="-5.33">1</tspan></text>
<text x="411.06" y="433.88" font-size="12.4" fill="#1a1a1a">10<tspan dx="0.62" dy="-5.33">2</tspan></text>
<text x="453.61" y="433.88" font-size="12.4" fill="#1a1a1a">10<tspan dx="0.62" dy="-5.33">3</tspan></text>
<text x="496.16" y="433.88" font-size="12.4" fill="#1a1a1a">10<tspan dx="0.62" dy="-5.33">4</tspan></text>
<text x="317.40" y="337.00" font-size="14.0" textLength="41.70" lengthAdjust="spacingAndGlyphs" text-anchor="middle" transform="rotate(-90 317.40 337.00)" fill="#1a1a1a">Counts</text>
<text x="412.90" y="366.30" font-size="18.3" textLength="41.40" lengthAdjust="spacingAndGlyphs" fill="#1a1a1a">11.4%</text>
<line x1="398.30" y1="376.90" x2="505.60" y2="376.90" stroke="#3a3a3a" stroke-width="0.9"/>
<line x1="398.30" y1="373.90" x2="398.30" y2="379.90" stroke="#3a3a3a" stroke-width="0.9"/>
<text x="452.30" y="381.90" font-size="6" fill="#444" style="stroke:none">m</text>
<polygon points="103.0,629.7 103.0,609.7 103.4,613.7 103.8,608.6 104.2,609.0 104.6,607.5 105.0,602.6 105.4,607.0 105.8,601.6 106.2,601.3 106.6,607.8 107.0,603.4 107.4,606.5 107.8,598.2 108.2,608.9 108.6,607.5 109.0,606.7 109.4,604.5 109.8,597.2 110.2,600.9 110.6,603.3 111.0,613.5 111.4,601.5 111.8,597.1 112.2,604.3 112.6,604.0 113.0,600.0 113.4,599.3 113.8,607.8 114.2,595.4 114.6,599.6 115.0,609.3 115.4,602.0 115.8,606.9 116.2,596.4 116.6,606.0 117.0,593.1 117.4,601.5 117.8,599.1 118.2,599.7 118.6,596.5 119.0,592.8 119.4,595.0 119.8,601.0 120.2,591.8 120.6,595.2 121.0,594.9 121.4,595.8 121.8,591.8 122.2,585.6 122.6,585.1 123.0,592.2 123.4,582.8 123.8,588.7 124.2,584.5 124.6,579.7 125.0,566.8 125.4,579.8 125.8,582.9 126.2,570.5 126.6,577.9 127.0,570.9 127.4,575.0 127.8,562.6 128.2,570.0 128.6,576.8 129.0,558.1 129.4,553.9 129.8,549.5 130.2,555.3 130.6,560.5 131.0,550.2 131.4,544.1 131.8,548.3 132.2,545.1 132.6,540.6 133.0,535.2 133.4,539.5 133.8,528.8 134.2,529.5 134.6,538.5 135.0,537.6 135.4,526.9 135.8,533.3 136.2,531.2 136.6,531.8 136.7,515.0 137.0,512.0 137.0,522.2 137.3,515.0 137.4,532.1 137.8,537.8 138.2,516.2 138.6,525.6 139.0,537.5 139.4,517.2 139.8,544.2 140.1,509.3 140.2,530.8 140.4,506.3 140.6,525.1 140.7,509.3 141.0,532.6 141.4,525.3 141.8,514.3 142.2,509.3 142.6,528.0 143.0,502.6 143.0,523.9 143.3,499.6 143.4,521.1 143.6,502.6 143.8,521.4 144.2,542.2 144.6,529.1 145.0,521.5 145.4,532.2 145.8,538.6 146.2,530.8 146.6,528.4 147.0,521.7 147.4,543.4 147.8,543.2 148.2,544.5 148.6,533.2 149.0,548.2 149.4,561.7 149.8,549.5 150.2,552.4 150.6,557.3 151.0,560.0 151.4,557.0 151.8,567.9 152.2,571.4 152.6,563.1 153.0,581.6 153.4,582.0 153.8,582.2 154.2,584.2 154.6,580.4 155.0,584.9 155.4,596.9 155.8,591.8 156.2,589.5 156.6,599.6 157.0,594.7 157.4,593.6 157.8,596.7 158.2,592.4 158.6,597.1 159.0,606.4 159.4,599.3 159.8,604.0 160.2,602.4 160.6,605.0 161.0,606.4 161.4,611.7 161.8,611.6 162.2,613.8 162.6,618.2 163.0,615.0 163.4,622.1 163.8,617.0 164.2,618.6 164.6,616.2 165.0,624.6 165.4,619.3 165.8,622.4 166.2,621.5 166.6,616.2 167.0,617.6 167.4,616.4 167.8,616.7 168.2,619.0 168.6,621.3 169.0,616.0 169.4,617.7 169.8,610.1 170.2,609.8 170.6,620.7 171.0,620.0 171.4,611.8 171.8,619.4 172.2,617.8 172.6,619.9 173.0,612.8 173.4,615.7 173.8,608.1 174.2,619.9 174.6,615.6 175.0,614.9 175.4,617.2 175.8,604.8 176.2,616.0 176.6,613.7 177.0,614.2 177.4,609.1 177.8,609.6 178.2,616.0 178.6,619.7 179.0,614.3 179.4,606.4 179.8,612.9 180.2,618.6 180.6,612.1 181.0,613.2 181.4,612.9 181.8,608.0 182.2,615.5 182.6,608.8 183.0,609.0 183.4,609.2 183.8,609.1 184.2,611.2 184.6,608.6 185.0,610.1 185.4,619.2 185.8,611.2 186.2,604.2 186.6,609.8 187.0,614.8 187.4,618.7 187.8,615.1 188.2,607.8 188.6,604.8 189.0,612.5 189.4,616.8 189.8,611.0 190.2,612.3 190.6,609.6 191.0,609.4 191.4,612.9 191.8,607.5 192.2,617.0 192.6,610.2 193.0,617.1 193.4,609.5 193.8,611.8 194.2,608.4 194.6,613.1 195.0,607.7 195.4,615.7 195.8,606.2 196.2,603.4 196.6,608.1 197.0,615.6 197.4,612.5 197.8,606.6 198.2,609.4 198.6,604.9 199.0,606.0 199.4,606.7 199.8,601.8 200.2,608.7 200.6,610.6 201.0,601.9 201.4,610.9 201.8,603.9 202.2,615.1 202.6,607.1 203.0,615.7 203.4,612.3 203.8,605.7 204.2,606.8 204.6,606.5 205.0,602.8 205.4,602.0 205.8,605.5 206.2,600.4 206.6,608.4 207.0,605.5 207.4,603.8 207.8,612.1 208.2,605.0 208.6,610.5 209.0,611.9 209.4,607.1 209.8,609.5 210.2,602.2 210.6,604.7 211.0,608.5 211.4,606.1 211.8,602.5 212.2,601.8 212.6,599.2 213.0,602.6 213.4,604.4 213.8,606.0 214.2,596.3 214.6,598.1 215.0,602.0 215.4,599.4 215.8,605.5 216.2,593.4 216.6,601.0 217.0,606.9 217.4,600.7 217.8,602.1 218.2,604.2 218.6,600.5 219.0,606.2 219.4,600.2 219.8,603.4 220.2,604.3 220.6,598.6 221.0,599.8 221.4,603.9 221.8,606.5 222.2,602.9 222.6,605.3 223.0,598.7 223.4,603.4 223.8,603.9 224.2,602.9 224.6,593.5 225.0,600.3 225.4,600.0 225.8,599.7 226.2,600.7 226.6,596.9 227.0,599.1 227.4,604.1 227.8,600.8 228.2,596.4 228.6,596.4 229.0,597.2 229.4,609.7 229.8,589.4 230.2,602.9 230.6,594.2 231.0,592.2 231.4,598.5 231.8,589.4 232.2,597.8 232.6,596.6 233.0,587.2 233.4,593.9 233.8,594.9 234.2,595.4 234.6,581.1 235.0,589.4 235.4,588.6 235.8,598.5 236.2,591.2 236.6,589.6 237.0,582.2 237.4,586.0 237.8,582.5 238.2,582.8 238.6,584.5 239.0,593.5 239.4,580.2 239.8,592.0 240.2,587.2 240.6,583.7 241.0,581.6 241.4,586.2 241.8,578.0 242.2,574.8 242.6,584.3 243.0,579.9 243.4,580.0 243.8,585.7 244.2,577.9 244.6,584.4 244.7,560.0 245.0,557.0 245.0,586.4 245.3,560.0 245.4,573.2 245.8,584.5 246.2,582.4 246.6,581.4 247.0,577.8 247.4,574.7 247.8,572.9 248.2,573.2 248.6,581.9 249.0,575.6 249.4,574.4 249.8,582.5 250.2,578.9 250.6,574.5 250.7,548.4 251.0,545.4 251.0,585.2 251.3,548.4 251.4,579.6 251.8,582.7 252.2,578.0 252.6,584.7 253.0,587.1 253.4,580.8 253.8,585.7 254.2,588.6 254.6,587.7 255.0,587.9 255.4,585.6 255.8,594.3 256.2,590.4 256.6,583.0 257.0,585.6 257.4,597.0 257.8,587.1 258.2,582.7 258.6,589.3 259.0,590.6 259.4,599.5 259.8,594.8 260.2,591.0 260.6,593.1 261.0,588.1 261.4,607.5 261.8,604.7 262.2,603.0 262.6,597.1 263.0,600.9 263.4,603.2 263.8,599.2 264.2,595.0 264.6,606.6 265.0,611.8 265.4,600.8 265.8,607.4 266.2,602.3 266.6,610.5 267.0,607.9 267.4,607.8 267.8,607.0 268.2,617.7 268.6,615.0 269.0,612.5 269.4,619.4 269.8,612.5 270.2,613.9 270.6,621.6 271.0,621.3 271.4,621.8 271.8,629.2 272.2,627.1 272.6,625.3 272.6,629.7" fill="#8e8e8e" stroke="#222" stroke-width="0.55" stroke-linejoin="miter"/>
<rect x="102.80" y="463.50" width="170.40" height="166.20" fill="none" stroke="#4a4a4a" stroke-width="1.1"/>
<line x1="101.00" y1="629.70" x2="102.80" y2="629.70" stroke="#777" stroke-width="0.7"/>
<text x="98.50" y="629.70" font-size="14.0" text-anchor="middle" transform="rotate(-90 98.50 629.70)" fill="#1a1a1a">0</text>
<line x1="101.00" y1="596.46" x2="102.80" y2="596.46" stroke="#777" stroke-width="0.7"/>
<text x="98.50" y="596.46" font-size="14.0" text-anchor="middle" transform="rotate(-90 98.50 596.46)" fill="#1a1a1a">20</text>
<line x1="101.00" y1="563.22" x2="102.80" y2="563.22" stroke="#777" stroke-width="0.7"/>
<text x="98.50" y="563.22" font-size="14.0" text-anchor="middle" transform="rotate(-90 98.50 563.22)" fill="#1a1a1a">40</text>
<line x1="101.00" y1="529.98" x2="102.80" y2="529.98" stroke="#777" stroke-width="0.7"/>
<text x="98.50" y="529.98" font-size="14.0" text-anchor="middle" transform="rotate(-90 98.50 529.98)" fill="#1a1a1a">60</text>
<line x1="101.00" y1="496.74" x2="102.80" y2="496.74" stroke="#777" stroke-width="0.7"/>
<text x="98.50" y="496.74" font-size="14.0" text-anchor="middle" transform="rotate(-90 98.50 496.74)" fill="#1a1a1a">80</text>
<line x1="101.00" y1="463.50" x2="102.80" y2="463.50" stroke="#777" stroke-width="0.7"/>
<text x="98.50" y="463.50" font-size="14.0" text-anchor="middle" transform="rotate(-90 98.50 463.50)" fill="#1a1a1a">100</text>
<text x="92.01" y="646.57" font-size="13.1" fill="#1a1a1a">10<tspan dx="0.66" dy="-5.63">0</tspan></text>
<text x="134.61" y="646.57" font-size="13.1" fill="#1a1a1a">10<tspan dx="0.66" dy="-5.63">1</tspan></text>
<text x="177.21" y="646.57" font-size="13.1" fill="#1a1a1a">10<tspan dx="0.66" dy="-5.63">2</tspan></text>
<text x="219.81" y="646.57" font-size="13.1" fill="#1a1a1a">10<tspan dx="0.66" dy="-5.63">3</tspan></text>
<text x="262.41" y="646.57" font-size="13.1" fill="#1a1a1a">10<tspan dx="0.66" dy="-5.63">4</tspan></text>
<text x="82.90" y="546.30" font-size="14.8" textLength="44.40" lengthAdjust="spacingAndGlyphs" text-anchor="middle" transform="rotate(-90 82.90 546.30)" fill="#1a1a1a">Counts</text>
<text x="186.50" y="575.40" font-size="18.0" textLength="39.70" lengthAdjust="spacingAndGlyphs" fill="#1a1a1a">45.5%</text>
<line x1="165.00" y1="587.20" x2="273.20" y2="587.20" stroke="#3a3a3a" stroke-width="0.9"/>
<line x1="165.00" y1="584.20" x2="165.00" y2="590.20" stroke="#3a3a3a" stroke-width="0.9"/>
<text x="220.00" y="592.50" font-size="6" fill="#444" style="stroke:none">m</text>
<polygon points="336.7,633.0 336.7,624.0 337.1,612.0 337.5,615.5 337.9,616.2 338.3,614.2 338.7,616.0 339.1,617.9 339.5,617.1 339.9,618.6 340.3,609.4 340.7,620.3 341.1,610.9 341.5,610.5 341.9,608.9 342.3,606.9 342.7,612.5 343.1,617.9 343.5,609.9 343.9,615.5 344.3,617.3 344.7,613.6 345.1,613.2 345.5,617.3 345.9,609.7 346.3,614.9 346.7,613.3 347.1,610.8 347.5,612.8 347.9,614.6 348.3,610.4 348.7,617.5 349.1,602.6 349.5,615.3 349.9,602.3 350.3,602.7 350.7,610.4 351.1,611.3 351.5,606.0 351.9,604.4 352.3,613.7 352.7,602.2 353.1,606.6 353.5,606.0 353.9,599.1 354.3,603.7 354.7,608.9 355.1,600.3 355.5,593.7 355.9,596.0 356.3,587.6 356.7,590.2 357.1,592.2 357.5,594.3 357.9,594.0 358.3,583.6 358.7,592.7 359.1,589.5 359.5,583.2 359.9,583.8 360.3,581.1 360.7,572.6 361.1,576.8 361.5,582.4 361.9,572.2 362.3,570.1 362.7,562.9 363.1,574.6 363.5,573.1 363.9,577.0 364.3,579.0 364.7,562.2 365.1,571.9 365.5,565.9 365.9,570.4 366.3,575.6 366.7,568.0 367.1,560.1 367.5,563.5 367.9,567.8 368.3,559.8 368.7,567.1 369.1,557.4 369.5,563.5 369.9,557.0 370.3,557.6 370.7,568.2 371.1,557.0 371.5,554.7 371.9,568.5 372.3,552.7 372.7,547.0 373.1,540.3 373.5,551.0 373.9,552.6 374.3,548.4 374.7,553.9 375.1,542.0 375.2,532.6 375.5,563.1 375.5,529.6 375.8,532.6 375.9,538.0 376.3,547.1 376.7,545.4 377.1,540.2 377.5,530.3 377.9,548.5 378.3,541.0 378.7,547.8 379.1,547.7 379.5,556.9 379.9,557.9 380.3,552.8 380.7,571.5 381.1,562.7 381.5,567.3 381.9,567.6 382.3,571.8 382.7,562.3 383.1,576.3 383.5,559.8 383.9,569.6 384.3,581.5 384.7,581.2 385.1,575.8 385.5,583.3 385.9,584.9 386.3,587.1 386.7,591.0 387.1,585.3 387.5,585.4 387.9,589.5 388.3,590.9 388.7,598.1 389.1,589.3 389.5,591.9 389.9,601.9 390.3,608.9 390.7,606.6 391.1,604.3 391.5,600.8 391.9,609.1 392.3,608.9 392.7,617.9 393.1,615.3 393.5,617.4 393.9,612.1 394.3,614.7 394.7,624.3 395.1,621.4 395.5,614.5 395.9,617.5 396.3,622.7 396.7,618.5 397.1,621.1 397.5,622.4 397.9,614.9 398.3,616.6 398.7,624.6 399.1,625.5 399.5,619.0 399.9,625.5 400.3,622.0 400.7,624.6 401.1,624.4 401.5,620.7 401.9,623.5 402.3,628.6 402.7,615.4 403.1,617.1 403.5,620.2 403.9,617.5 404.3,622.2 404.7,622.7 405.1,623.8 405.5,621.2 405.9,622.4 406.3,622.2 406.7,621.5 407.1,623.2 407.5,619.5 407.9,622.5 408.3,620.8 408.7,626.0 409.1,625.2 409.5,622.9 409.9,624.0 410.3,622.5 410.7,621.1 411.1,625.0 411.5,619.3 411.9,624.0 412.3,621.8 412.7,621.4 413.1,620.5 413.5,621.2 413.9,624.2 414.3,622.1 414.7,622.3 415.1,624.6 415.5,623.6 415.9,618.5 416.3,624.5 416.7,626.5 417.1,624.7 417.5,622.0 417.9,623.0 418.3,621.6 418.7,624.3 419.1,618.8 419.5,621.4 419.9,623.4 420.3,626.4 420.7,620.2 421.1,627.5 421.5,621.5 421.9,621.5 422.3,623.0 422.7,627.6 423.1,623.9 423.5,626.0 423.9,623.8 424.3,627.3 424.7,625.9 425.1,624.3 425.5,623.3 425.9,627.2 426.3,629.7 426.7,624.0 427.1,624.9 427.5,627.6 427.9,624.9 428.3,625.6 428.7,626.5 429.1,631.2 429.5,627.1 429.9,628.3 430.3,625.6 430.7,624.9 431.1,628.4 431.5,626.1 431.9,626.8 432.3,626.7 432.7,624.3 433.1,625.1 433.5,627.0 433.9,627.9 434.3,629.1 434.7,628.3 435.1,627.9 435.5,626.4 435.9,624.7 436.3,625.9 436.7,623.2 437.1,623.6 437.5,624.7 437.9,627.8 438.3,627.0 438.7,626.2 439.1,624.8 439.5,626.5 439.9,628.1 440.3,629.4 440.7,624.9 441.1,626.7 441.5,627.6 441.9,624.3 442.3,623.5 442.7,626.4 443.1,624.0 443.5,622.3 443.9,628.9 444.3,628.8 444.7,629.9 445.1,626.4 445.5,624.6 445.9,622.8 446.3,626.2 446.7,628.9 447.1,627.0 447.5,623.8 447.9,625.9 448.3,626.8 448.7,627.0 449.1,626.0 449.5,623.7 449.9,622.9 450.3,623.8 450.7,630.7 451.1,625.7 451.5,629.0 451.9,628.9 452.3,624.7 452.7,621.4 453.1,623.0 453.5,622.5 453.9,624.6 454.3,622.2 454.7,627.4 455.1,625.2 455.5,624.0 455.9,624.0 456.3,621.4 456.7,623.9 457.1,625.6 457.5,622.8 457.7,618.0 457.9,624.0 458.0,615.0 458.3,622.0 458.3,618.0 458.7,617.7 459.1,620.7 459.5,623.9 459.9,624.5 460.3,624.8 460.7,625.1 461.1,626.0 461.5,623.1 461.9,627.4 462.3,628.1 462.7,625.0 463.1,624.0 463.5,625.6 463.9,627.4 464.3,626.8 464.7,627.6 465.1,625.3 465.5,625.6 465.9,623.5 466.3,626.7 466.7,619.2 467.1,623.2 467.5,621.7 467.9,625.8 468.3,622.9 468.7,627.9 469.1,626.9 469.5,625.5 469.9,626.1 470.3,628.7 470.7,624.1 471.1,621.8 471.5,624.9 471.9,626.0 472.3,623.4 472.7,624.2 473.1,625.4 473.5,627.0 473.9,625.5 474.3,625.8 474.7,623.7 475.1,625.6 475.5,626.1 475.9,626.8 476.3,624.5 476.7,625.7 477.1,628.8 477.5,629.2 477.9,623.9 478.3,627.0 478.7,625.8 479.1,628.5 479.5,622.9 479.9,625.6 480.3,625.6 480.7,627.3 481.1,628.6 481.5,626.2 481.9,625.6 482.3,625.4 482.7,625.5 483.1,626.5 483.5,627.9 483.9,627.5 484.3,629.4 484.7,624.8 485.1,627.3 485.5,626.9 485.9,630.0 486.3,626.9 486.7,628.8 487.1,630.3 487.5,627.2 487.9,626.2 488.3,628.1 488.7,632.6 489.1,626.9 489.5,628.6 489.7,625.0 489.9,628.6 490.0,622.0 490.3,630.4 490.3,625.0 490.7,629.2 491.1,628.9 491.5,627.4 491.9,630.1 492.3,627.7 492.7,629.7 493.1,627.3 493.5,630.2 493.9,630.3 494.3,630.3 494.7,628.9 495.1,631.0 495.5,630.8 495.9,632.6 496.3,629.5 496.7,630.1 497.1,627.1 497.5,630.3 497.9,629.3 498.3,633.0 498.7,629.8 499.1,630.5 499.5,631.3 499.9,631.6 500.3,630.1 500.7,630.4 501.1,629.1 501.5,630.4 501.9,633.0 502.3,633.0 502.7,629.0 503.1,631.5 503.5,629.4 503.9,633.0 504.3,630.1 504.7,629.9 505.1,632.0 505.5,631.2 505.9,630.2 505.9,633.0" fill="#bababa" stroke="#222" stroke-width="0.55" stroke-linejoin="miter"/>
<rect x="336.50" y="464.40" width="170.00" height="168.60" fill="none" stroke="#4a4a4a" stroke-width="1.1"/>
<line x1="334.70" y1="633.00" x2="336.50" y2="633.00" stroke="#777" stroke-width="0.7"/>
<text x="330.30" y="633.00" font-size="14.0" text-anchor="middle" transform="rotate(-90 330.30 633.00)" fill="#1a1a1a">0</text>
<line x1="334.70" y1="599.28" x2="336.50" y2="599.28" stroke="#777" stroke-width="0.7"/>
<text x="330.30" y="599.28" font-size="14.0" text-anchor="middle" transform="rotate(-90 330.30 599.28)" fill="#1a1a1a">20</text>
<line x1="334.70" y1="565.56" x2="336.50" y2="565.56" stroke="#777" stroke-width="0.7"/>
<text x="330.30" y="565.56" font-size="14.0" text-anchor="middle" transform="rotate(-90 330.30 565.56)" fill="#1a1a1a">40</text>
<line x1="334.70" y1="531.84" x2="336.50" y2="531.84" stroke="#777" stroke-width="0.7"/>
<text x="330.30" y="531.84" font-size="14.0" text-anchor="middle" transform="rotate(-90 330.30 531.84)" fill="#1a1a1a">60</text>
<line x1="334.70" y1="498.12" x2="336.50" y2="498.12" stroke="#777" stroke-width="0.7"/>
<text x="330.30" y="498.12" font-size="14.0" text-anchor="middle" transform="rotate(-90 330.30 498.12)" fill="#1a1a1a">80</text>
<line x1="334.70" y1="464.40" x2="336.50" y2="464.40" stroke="#777" stroke-width="0.7"/>
<text x="330.30" y="464.40" font-size="14.0" text-anchor="middle" transform="rotate(-90 330.30 464.40)" fill="#1a1a1a">100</text>
<text x="324.36" y="651.96" font-size="14.0" fill="#1a1a1a">10<tspan dx="0.70" dy="-6.02">0</tspan></text>
<text x="366.86" y="651.96" font-size="14.0" fill="#1a1a1a">10<tspan dx="0.70" dy="-6.02">1</tspan></text>
<text x="409.36" y="651.96" font-size="14.0" fill="#1a1a1a">10<tspan dx="0.70" dy="-6.02">2</tspan></text>
<text x="451.86" y="651.96" font-size="14.0" fill="#1a1a1a">10<tspan dx="0.70" dy="-6.02">3</tspan></text>
<text x="494.36" y="651.96" font-size="14.0" fill="#1a1a1a">10<tspan dx="0.70" dy="-6.02">4</tspan></text>
<text x="314.40" y="548.80" font-size="15.3" textLength="47.80" lengthAdjust="spacingAndGlyphs" text-anchor="middle" transform="rotate(-90 314.40 548.80)" fill="#1a1a1a">Counts</text>
<text x="403.70" y="577.30" font-size="18.0" textLength="39.40" lengthAdjust="spacingAndGlyphs" fill="#1a1a1a">18.3%</text>
<line x1="399.00" y1="590.50" x2="506.50" y2="590.50" stroke="#3a3a3a" stroke-width="0.9"/>
<line x1="399.00" y1="587.50" x2="399.00" y2="593.50" stroke="#3a3a3a" stroke-width="0.9"/>
<text x="453.10" y="595.40" font-size="6" fill="#444" style="stroke:none">m</text>
<line x1="99.2" y1="661.5" x2="508" y2="661.5" stroke="#222" stroke-width="1.1"/>
<polygon points="507,658 512.6,661.5 507,665" fill="#111"/>
<text x="286.90" y="686.40" font-size="17.5" textLength="44.00" lengthAdjust="spacingAndGlyphs" fill="#1a1a1a">TNF-&#945;</text>
<text x="1.20" y="733.80" font-size="26.5" textLength="17.60" lengthAdjust="spacingAndGlyphs" font-weight="bold" fill="#000">B</text>
<text x="140.30" y="730.30" font-size="15.5" textLength="71.60" lengthAdjust="spacingAndGlyphs" fill="#1a1a1a">CD8 cells</text>
<text x="393.90" y="730.80" font-size="15.5" textLength="70.40" lengthAdjust="spacingAndGlyphs" fill="#1a1a1a">CD4 cells</text>
<text x="16.20" y="1019.80" font-size="18.2" textLength="233.50" lengthAdjust="spacingAndGlyphs" transform="rotate(-90 16.20 1019.80)" fill="#1a1a1a">% immediate TNF-&#945; response</text>
<line x1="60.00" y1="806.00" x2="60.00" y2="1014.30" stroke="#777" stroke-width="1"/>
<line x1="54.50" y1="1009.80" x2="60.00" y2="1009.80" stroke="#777" stroke-width="1"/>
<text x="35.80" y="1017.90" font-size="23" textLength="9.80" lengthAdjust="spacingAndGlyphs" fill="#111">0</text>
<line x1="54.50" y1="969.04" x2="60.00" y2="969.04" stroke="#777" stroke-width="1"/>
<text x="26.00" y="977.14" font-size="23" textLength="19.60" lengthAdjust="spacingAndGlyphs" fill="#111">10</text>
<line x1="54.50" y1="928.28" x2="60.00" y2="928.28" stroke="#777" stroke-width="1"/>
<text x="26.00" y="936.38" font-size="23" textLength="19.60" lengthAdjust="spacingAndGlyphs" fill="#111">20</text>
<line x1="54.50" y1="887.52" x2="60.00" y2="887.52" stroke="#777" stroke-width="1"/>
<text x="26.00" y="895.62" font-size="23" textLength="19.60" lengthAdjust="spacingAndGlyphs" fill="#111">30</text>
<line x1="54.50" y1="846.76" x2="60.00" y2="846.76" stroke="#777" stroke-width="1"/>
<text x="26.00" y="854.86" font-size="23" textLength="19.60" lengthAdjust="spacingAndGlyphs" fill="#111">40</text>
<line x1="54.50" y1="806.00" x2="60.00" y2="806.00" stroke="#777" stroke-width="1"/>
<text x="26.00" y="814.10" font-size="23" textLength="19.60" lengthAdjust="spacingAndGlyphs" fill="#111">50</text>
<rect x="79.40" y="1002.70" width="34.40" height="7.10" fill="#fff" stroke="#111" stroke-width="1.15"/>
<line x1="96.70" y1="1000.20" x2="96.70" y2="1005.00" stroke="#111" stroke-width="1.3"/>
<line x1="92.20" y1="1000.20" x2="101.20" y2="1000.20" stroke="#111" stroke-width="1.5"/>
<line x1="92.20" y1="1005.00" x2="101.20" y2="1005.00" stroke="#111" stroke-width="1.5"/>
<rect x="123.00" y="901.80" width="34.00" height="108.00" fill="#b8b8b8" stroke="#111" stroke-width="1.15"/>
<line x1="140.30" y1="889.40" x2="140.30" y2="915.40" stroke="#111" stroke-width="1.3"/>
<line x1="135.80" y1="889.40" x2="144.80" y2="889.40" stroke="#111" stroke-width="1.5"/>
<line x1="135.80" y1="915.40" x2="144.80" y2="915.40" stroke="#111" stroke-width="1.5"/>
<rect x="166.80" y="893.20" width="34.10" height="116.60" fill="#696969" stroke="#111" stroke-width="1.15"/>
<line x1="183.50" y1="873.00" x2="183.50" y2="912.50" stroke="#111" stroke-width="1.3"/>
<line x1="179.00" y1="873.00" x2="188.00" y2="873.00" stroke="#111" stroke-width="1.5"/>
<line x1="179.00" y1="912.50" x2="188.00" y2="912.50" stroke="#111" stroke-width="1.5"/>
<rect x="210.20" y="832.90" width="34.30" height="176.90" fill="#000" stroke="#111" stroke-width="1.15"/>
<line x1="227.70" y1="816.80" x2="227.70" y2="832.90" stroke="#111" stroke-width="1.3"/>
<line x1="223.20" y1="816.80" x2="232.20" y2="816.80" stroke="#111" stroke-width="1.5"/>
<line x1="92.40" y1="862.60" x2="139.20" y2="862.60" stroke="#444" stroke-width="1"/>
<line x1="92.40" y1="859.60" x2="92.40" y2="865.60" stroke="#444" stroke-width="1"/>
<line x1="139.20" y1="859.60" x2="139.20" y2="865.60" stroke="#444" stroke-width="1"/>
<text x="95.00" y="856.00" font-size="10.8" textLength="32.80" lengthAdjust="spacingAndGlyphs" fill="#222" style="stroke:none"><tspan font-style="italic">P</tspan> &lt; .01</text>
<line x1="143.70" y1="806.50" x2="227.20" y2="806.50" stroke="#444" stroke-width="1"/>
<line x1="143.70" y1="803.50" x2="143.70" y2="809.50" stroke="#444" stroke-width="1"/>
<line x1="227.20" y1="803.50" x2="227.20" y2="809.50" stroke="#444" stroke-width="1"/>
<text x="163.90" y="802.60" font-size="10.8" textLength="33.40" lengthAdjust="spacingAndGlyphs" fill="#222" style="stroke:none"><tspan font-style="italic">P</tspan> &lt; .05</text>
<line x1="178.40" y1="781.00" x2="225.00" y2="781.00" stroke="#444" stroke-width="1"/>
<line x1="178.40" y1="778.00" x2="178.40" y2="784.00" stroke="#444" stroke-width="1"/>
<line x1="225.00" y1="778.00" x2="225.00" y2="784.00" stroke="#444" stroke-width="1"/>
<text x="183.80" y="775.10" font-size="10.8" textLength="31.80" lengthAdjust="spacingAndGlyphs" fill="#222" style="stroke:none"><tspan font-style="italic">P</tspan>=.05</text>
<line x1="313.90" y1="799.40" x2="313.90" y2="1011.80" stroke="#777" stroke-width="1"/>
<line x1="308.20" y1="1007.30" x2="313.90" y2="1007.30" stroke="#777" stroke-width="1"/>
<text x="292.10" y="1014.83" font-size="21.4" textLength="8.70" lengthAdjust="spacingAndGlyphs" fill="#111">0</text>
<line x1="308.20" y1="965.72" x2="313.90" y2="965.72" stroke="#777" stroke-width="1"/>
<text x="283.40" y="973.25" font-size="21.4" textLength="17.40" lengthAdjust="spacingAndGlyphs" fill="#111">10</text>
<line x1="308.20" y1="924.14" x2="313.90" y2="924.14" stroke="#777" stroke-width="1"/>
<text x="283.40" y="931.67" font-size="21.4" textLength="17.40" lengthAdjust="spacingAndGlyphs" fill="#111">20</text>
<line x1="308.20" y1="882.56" x2="313.90" y2="882.56" stroke="#777" stroke-width="1"/>
<text x="283.40" y="890.09" font-size="21.4" textLength="17.40" lengthAdjust="spacingAndGlyphs" fill="#111">30</text>
<line x1="308.20" y1="840.98" x2="313.90" y2="840.98" stroke="#777" stroke-width="1"/>
<text x="283.40" y="848.51" font-size="21.4" textLength="17.40" lengthAdjust="spacingAndGlyphs" fill="#111">40</text>
<line x1="308.20" y1="799.40" x2="313.90" y2="799.40" stroke="#777" stroke-width="1"/>
<text x="283.40" y="806.93" font-size="21.4" textLength="17.40" lengthAdjust="spacingAndGlyphs" fill="#111">50</text>
<rect x="333.00" y="990.75" width="34.00" height="16.55" fill="#fff" stroke="#111" stroke-width="1.15"/>
<line x1="349.50" y1="987.00" x2="349.50" y2="994.50" stroke="#111" stroke-width="1.3"/>
<line x1="345.00" y1="987.00" x2="354.00" y2="987.00" stroke="#111" stroke-width="1.5"/>
<line x1="345.00" y1="994.50" x2="354.00" y2="994.50" stroke="#111" stroke-width="1.5"/>
<rect x="376.50" y="943.30" width="34.20" height="64.00" fill="#b8b8b8" stroke="#111" stroke-width="1.15"/>
<line x1="394.00" y1="911.30" x2="394.00" y2="975.10" stroke="#111" stroke-width="1.3"/>
<line x1="389.50" y1="911.30" x2="398.50" y2="911.30" stroke="#111" stroke-width="1.5"/>
<line x1="389.50" y1="975.10" x2="398.50" y2="975.10" stroke="#111" stroke-width="1.5"/>
<rect x="420.50" y="921.10" width="33.70" height="86.20" fill="#696969" stroke="#111" stroke-width="1.15"/>
<line x1="436.90" y1="911.60" x2="436.90" y2="931.80" stroke="#111" stroke-width="1.3"/>
<line x1="432.40" y1="911.60" x2="441.40" y2="911.60" stroke="#111" stroke-width="1.5"/>
<line x1="432.40" y1="931.80" x2="441.40" y2="931.80" stroke="#111" stroke-width="1.5"/>
<rect x="464.00" y="906.40" width="34.00" height="100.90" fill="#000" stroke="#111" stroke-width="1.15"/>
<line x1="481.00" y1="896.90" x2="481.00" y2="906.40" stroke="#111" stroke-width="1.3"/>
<line x1="476.50" y1="896.90" x2="485.50" y2="896.90" stroke="#111" stroke-width="1.5"/>
<line x1="346.75" y1="887.50" x2="393.25" y2="887.50" stroke="#444" stroke-width="1"/>
<line x1="346.75" y1="884.50" x2="346.75" y2="890.50" stroke="#444" stroke-width="1"/>
<line x1="393.25" y1="884.50" x2="393.25" y2="890.50" stroke="#444" stroke-width="1"/>
<text x="351.25" y="881.30" font-size="10.8" textLength="31.80" lengthAdjust="spacingAndGlyphs" fill="#222" style="stroke:none"><tspan font-style="italic">P</tspan> &lt; .05</text>
<line x1="392.50" y1="857.70" x2="483.40" y2="857.70" stroke="#444" stroke-width="1"/>
<line x1="392.50" y1="854.70" x2="392.50" y2="860.70" stroke="#444" stroke-width="1"/>
<line x1="483.40" y1="854.70" x2="483.40" y2="860.70" stroke="#444" stroke-width="1"/>
<text x="421.30" y="852.50" font-size="10.8" textLength="25.10" lengthAdjust="spacingAndGlyphs" fill="#222" style="stroke:none"><tspan font-style="italic">P</tspan>=.5</text>
<line x1="432.00" y1="827.40" x2="479.00" y2="827.40" stroke="#444" stroke-width="1"/>
<line x1="432.00" y1="824.40" x2="432.00" y2="830.40" stroke="#444" stroke-width="1"/>
<line x1="479.00" y1="824.40" x2="479.00" y2="830.40" stroke="#444" stroke-width="1"/>
<text x="436.90" y="822.50" font-size="10.8" textLength="29.70" lengthAdjust="spacingAndGlyphs" fill="#222" style="stroke:none"><tspan font-style="italic">P</tspan>=.99</text>
<line x1="54.8" y1="1009.8" x2="264.6" y2="1009.8" stroke="#777" stroke-width="1"/>
<line x1="264.6" y1="1009.8" x2="264.6" y2="1014" stroke="#999" stroke-width="1"/>
<line x1="308" y1="1007.3" x2="518.5" y2="1007.3" stroke="#777" stroke-width="1"/>
<line x1="518" y1="1007.3" x2="518" y2="1011.5" stroke="#999" stroke-width="1"/>
</svg>
</body></html>
